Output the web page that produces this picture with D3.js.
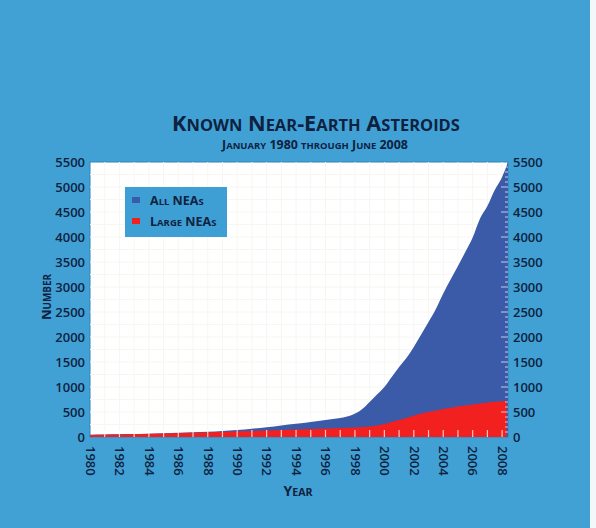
<!DOCTYPE html>
<html>
<head>
<meta charset="utf-8">
<script src="https://cdn.jsdelivr.net/npm/d3@7"></script>
<style>
  html, body { margin: 0; padding: 0; background: #41a1d5; }
  svg { display: block; }
</style>
</head>
<body>
<svg id="chart" width="596" height="528"></svg>
<script>
// ---- data ----
const allYears   = [1980, 1981, 1982, 1983, 1984, 1985, 1986, 1987, 1988, 1989, 1990, 1991, 1992, 1993, 1994, 1995, 1996, 1997, 1997.8, 1998.5, 1999, 1999.5, 2000, 2000.5, 2001, 2001.5, 2002, 2002.5, 2003, 2003.5, 2004, 2004.5, 2005, 2005.5, 2006, 2006.5, 2007, 2007.5, 2008, 2008.4];
const allValues  = [45, 50, 55, 60, 65, 75, 85, 95, 105, 120, 140, 165, 195, 230, 265, 300, 340, 380, 440, 560, 700, 850, 1000, 1200, 1400, 1580, 1800, 2050, 2300, 2560, 2870, 3150, 3420, 3700, 3990, 4370, 4620, 4940, 5200, 5500];
const largeYears  = [1980, 1985, 1990, 1995, 1997, 1998, 1999, 1999.5, 2000, 2000.5, 2001, 2001.5, 2002, 2003, 2004, 2005, 2006, 2007, 2008, 2008.3];
const largeValues = [40, 70, 110, 160, 180, 190, 210, 230, 260, 300, 340, 380, 430, 500, 560, 610, 650, 690, 715, 720];
const yTicks = [0, 500, 1000, 1500, 2000, 2500, 3000, 3500, 4000, 4500, 5000, 5500];
const xTickYears = [1980, 1982, 1984, 1986, 1988, 1990, 1992, 1994, 1996, 1998, 2000, 2002, 2004, 2006, 2008];
const seriesNames = ["All NEAs", "Large NEAs"];
const titleText = "Known Near-Earth Asteroids";
const subtitleText = "January 1980 through June 2008";

// ---- styles ----
const BG = "#41a1d5", BLUE = "#3b5aa8", RED = "#f2211f", INK = "#0e2240";
const FONT = "'Open Sans', 'DejaVu Sans', sans-serif";

const svg = d3.select("#chart");
svg.append("rect").attr("width", 596).attr("height", 528).attr("fill", BG);
svg.append("rect").attr("x", 590).attr("width", 6).attr("height", 528).attr("fill", "#f3f7fa");

const x = d3.scaleLinear().domain([1980, 2008.4]).range([90, 508]);
const y = d3.scaleLinear().domain([0, 5500]).range([437, 162]);

// plot background
svg.append("rect").attr("x", x.range()[0]).attr("y", y.range()[1])
  .attr("width", x.range()[1] - x.range()[0]).attr("height", y.range()[0] - y.range()[1])
  .attr("fill", "#ffffff").attr("stroke", "#2f83bb").attr("stroke-width", 1);

// faint grid
const g = svg.append("g");
g.selectAll(".vg").data(d3.range(1981, 2009)).join("line")
  .attr("x1", d => x(d)).attr("x2", d => x(d)).attr("y1", y(0)).attr("y2", y(5500))
  .attr("stroke", "#f7f6f1").attr("stroke-width", 1);
g.selectAll(".hg").data(d3.range(250, 5500, 250)).join("line")
  .attr("x1", x(1980)).attr("x2", x(2008.4)).attr("y1", d => y(d)).attr("y2", d => y(d))
  .attr("stroke", "#f7f6f1").attr("stroke-width", 1);

// areas
const allData = allYears.map((yr, i) => ({ yr, v: allValues[i] }));
const largeData = largeYears.map((yr, i) => ({ yr, v: largeValues[i] }));
const area = d3.area().x(d => x(d.yr)).y0(y(0)).y1(d => y(d.v)).curve(d3.curveMonotoneX);
svg.append("path").datum(allData).attr("d", area).attr("fill", BLUE);
svg.append("path").datum(largeData).attr("d", area).attr("fill", RED);

// white inner ticks along the bottom (every year)
svg.append("g").selectAll("line").data(d3.range(1981, 2009)).join("line")
  .attr("x1", d => x(d)).attr("x2", d => x(d)).attr("y1", y(0)).attr("y2", y(0) - 7)
  .attr("stroke", "#ffffff").attr("stroke-opacity", 0.75).attr("stroke-width", 1.2);
// white inner ticks along the right edge
svg.append("g").selectAll("line").data(d3.range(100, 5500, 100)).join("line")
  .attr("x1", x(2008.4)).attr("x2", d => x(2008.4) - (d % 500 === 0 ? 7 : 3))
  .attr("y1", d => y(d)).attr("y2", d => y(d))
  .attr("stroke", "#ffffff").attr("stroke-opacity", 0.7).attr("stroke-width", 1);

// axes
function styleAxis(sel) {
  sel.select(".domain").remove();
  sel.selectAll("line").remove();
  sel.selectAll("text").attr("fill", INK).style("font-family", FONT)
    .style("font-size", "13px").style("font-weight", 600);
}
svg.append("g").attr("transform", `translate(${x.range()[0]},0)`)
  .call(d3.axisLeft(y).tickValues(yTicks).tickFormat(d3.format("d")).tickSize(0).tickPadding(5)).call(styleAxis);
svg.append("g").attr("transform", `translate(${x.range()[1]},0)`)
  .call(d3.axisRight(y).tickValues(yTicks).tickFormat(d3.format("d")).tickSize(0).tickPadding(5)).call(styleAxis);
const xAxisG = svg.append("g").attr("transform", `translate(0,${y.range()[0]})`)
  .call(d3.axisBottom(x).tickValues(xTickYears).tickFormat(d3.format("d")).tickSize(0)).call(styleAxis);
xAxisG.selectAll("text").attr("transform", "rotate(90)")
  .attr("x", 9).attr("y", 0).attr("dy", "0.36em").attr("text-anchor", "start");

// small-caps text helper (capitals & digits large, lowercase as smaller capitals)
function smallCaps(sel, str, size, ratio) {
  const runs = [];
  for (const ch of str) {
    const small = ch !== ch.toUpperCase();
    if (runs.length && runs[runs.length - 1].small === small) runs[runs.length - 1].t += ch;
    else runs.push({ small, t: ch });
  }
  sel.selectAll("tspan").data(runs).join("tspan")
    .text(d => d.small ? d.t.toUpperCase() : d.t)
    .style("font-size", d => (d.small ? size * ratio : size) + "px");
  return sel;
}
function fitWidth(sel, str, size, ratio, target) {
  smallCaps(sel, str, size, ratio);
  const w = sel.node().getComputedTextLength();
  smallCaps(sel, str, size * target / w, ratio);
}

const title = svg.append("text").attr("x", 316).attr("y", 131).attr("text-anchor", "middle")
  .attr("fill", INK).style("font-family", FONT).style("font-weight", 700);
fitWidth(title, titleText, 19, 0.76, 288);

const sub = svg.append("text").attr("x", 315).attr("y", 149).attr("text-anchor", "middle")
  .attr("fill", INK).style("font-family", FONT).style("font-weight", 700);
fitWidth(sub, subtitleText, 11, 0.76, 186);

const ylab = svg.append("text").attr("transform", "translate(51,297) rotate(-90)")
  .attr("text-anchor", "middle").attr("fill", INK).style("font-family", FONT).style("font-weight", 700);
smallCaps(ylab, "Number", 13, 0.76);

const xlab = svg.append("text").attr("x", 298).attr("y", 496).attr("text-anchor", "middle")
  .attr("fill", INK).style("font-family", FONT).style("font-weight", 700);
smallCaps(xlab, "Year", 14, 0.76);

// legend
const lg = svg.append("g");
lg.append("rect").attr("x", 125).attr("y", 187).attr("width", 102).attr("height", 50)
  .attr("fill", "#3e9fd5");
const legendColors = [BLUE, RED];
seriesNames.forEach((name, i) => {
  lg.append("rect").attr("x", 132).attr("y", 197 + i * 21).attr("width", 8).attr("height", 6)
    .attr("fill", legendColors[i]);
  const t = lg.append("text").attr("x", 150).attr("y", 205 + i * 21)
    .attr("fill", INK).style("font-family", FONT).style("font-weight", 700);
  smallCaps(t, name, 12.5, 0.76);
});
</script>
</body>
</html>
